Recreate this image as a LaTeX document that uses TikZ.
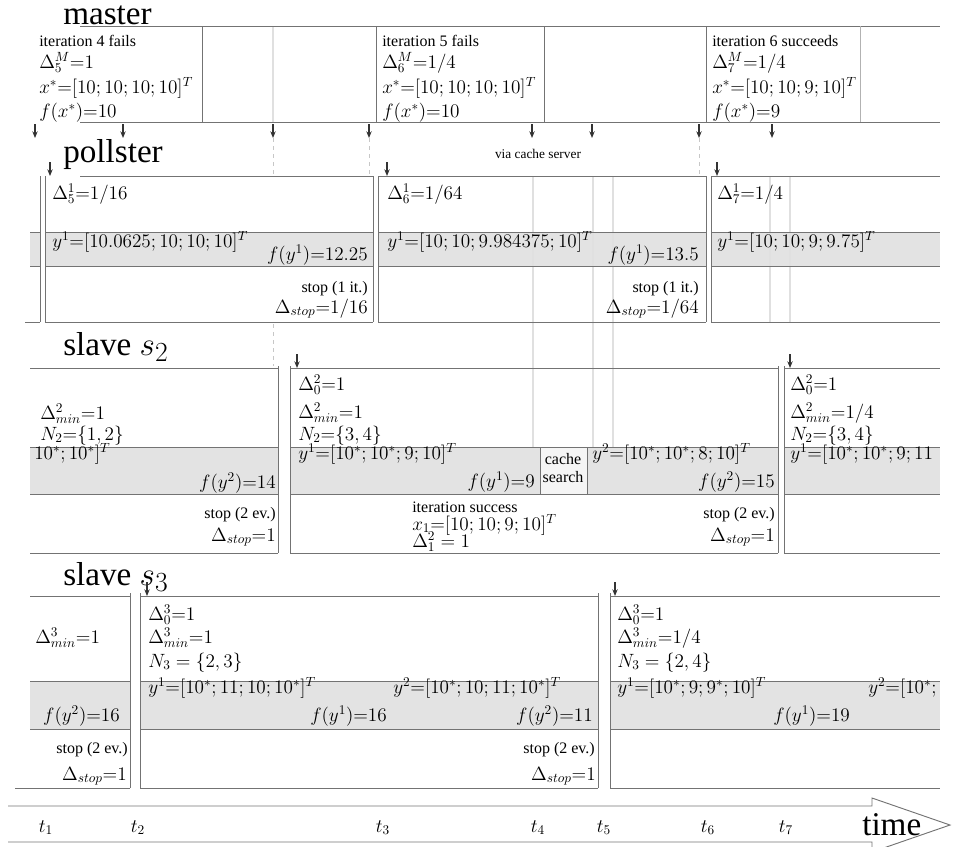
\documentclass[tikz,border=0pt]{standalone}
\usepackage[no-math]{fontspec}
\setmainfont{Liberation Serif}
\usetikzlibrary{arrows.meta}
\newcommand\M[1]{{\fontsize{14.4}{17}\selectfont$#1$}}
\begin{document}
\begin{tikzpicture}[x=0.75pt,y=-0.75pt,
  ln/.style={draw=black!55, line width=0.7pt},
  ghost/.style={draw=black!12, line width=0.9pt},
  bandfill/.style={fill=black!11},
  tx/.style={inner sep=0pt, anchor=base west, font=\fontsize{12}{14}\selectfont},
  txr/.style={inner sep=0pt, anchor=base east, font=\fontsize{12}{14}\selectfont},
  txc/.style={inner sep=0pt, anchor=base, font=\fontsize{12}{14}\selectfont},
  ttl/.style={inner sep=0pt, anchor=base west, font=\fontsize{24.88}{30}\selectfont},
  msg/.style={draw=black!80, line width=1.1pt, -{Stealth[length=5pt,width=4pt]}},
  dsh/.style={draw=black!22, dashed, line width=0.7pt},
  tl/.style={inner sep=0pt, anchor=base, font=\fontsize{14.4}{17}\selectfont},
]
\useasboundingbox (0,0) rectangle (959,846);
\clip (0,0) rectangle (959,846);

% ---------- gray bands ----------
\foreach \a/\b in {30/40,45/373,378/706,711/940} \fill[bandfill] (\a,232) rectangle (\b,266);
\foreach \a/\b in {30/278,290/778,784/940} \fill[bandfill] (\a,447) rectangle (\b,494);
\foreach \a/\b in {30/130,140/598,610/940} \fill[bandfill] (\a,681) rectangle (\b,729);
\fill[black!4] (540,447) rectangle (587,494);

% ---------- ghost lines ----------
\foreach \x in {533,593,613} \draw[ghost] (\x,176) -- (\x,447);
\foreach \x in {770,790} \draw[ghost] (\x,176) -- (\x,322);
\draw[ghost] (273,26) -- (273,122);

% ---------- master lane ----------
\draw[ln] (80,26) -- (940,26);
\draw[ln] (80,122) -- (940,122);
\foreach \x in {202,376,544,706} \draw[ln] (\x,26) -- (\x,122);
\draw[ln, draw=black!30] (860,26) -- (860,122);

% ---------- pollster lane ----------
\foreach \a/\b in {80/373,378/706,711/940} \draw[ln] (\a,176) -- (\b,176);
\foreach \a/\b in {30/40,45/373,378/706,711/940} {\draw[ln] (\a,232) -- (\b,232); \draw[ln] (\a,266) -- (\b,266);}
\foreach \a/\b in {25/40,45/373,378/706,711/940} \draw[ln] (\a,322) -- (\b,322);
\foreach \x in {40,45,373,378,706,711} \draw[ln] (\x,176) -- (\x,322);

% ---------- slave s2 lane ----------
\foreach \a/\b in {30/278,290/778,784/940} {\draw[ln] (\a,368) -- (\b,368); \draw[ln] (\a,447) -- (\b,447); \draw[ln] (\a,494) -- (\b,494); \draw[ln] (\a,553) -- (\b,553);}
\foreach \x in {278,290,778,784} \draw[ln] (\x,366) -- (\x,553);
\draw[ln] (540,447) -- (540,494);
\draw[ln] (587,447) -- (587,494);

% ---------- slave s3 lane ----------
\foreach \a/\b in {30/130,140/598,610/940} {\draw[ln] (\a,596) -- (\b,596); \draw[ln] (\a,681) -- (\b,681); \draw[ln] (\a,729) -- (\b,729);}
\foreach \a/\b in {15/130,140/598,610/940} \draw[ln] (\a,788) -- (\b,788);
\foreach \x in {130,140,598,610} \draw[ln] (\x,593) -- (\x,788);

% ---------- time arrow ----------
\draw[ln] (8,806) -- (872,806) -- (872,798) -- (950,825) -- (872,852) -- (872,842) -- (8,842);

% ---------- titles ----------
\node[ttl] (tmaster) at (63,24) {master};
\node[ttl] (tpoll) at (63,162) {pollster};
\node[ttl] (ts2) at (63,355) {slave $s_2$};
\node[ttl] (ts3) at (63,585) {slave $s_3$};
\node[ttl] (ttime) at (862,835) {time};

% ---------- master texts ----------
\node[tx] (m1a) at (39,46) {iteration 4 fails};
\node[tx] (m1b) at (39,68) {\M{\Delta_5^M{=}1}};
\node[tx] (m1c) at (39,93) {\M{x^*{=}[10; 10; 10; 10]^T}};
\node[tx] (m1d) at (39,117) {\M{f(x^*){=}10}};
\node[tx] (m2a) at (382,46) {iteration 5 fails};
\node[tx] (m2b) at (382,68) {\M{\Delta_6^M{=}1/4}};
\node[tx] (m2c) at (382,93) {\M{x^*{=}[10; 10; 10; 10]^T}};
\node[tx] (m2d) at (382,117) {\M{f(x^*){=}10}};
\node[tx] (m3a) at (712,46) {iteration 6 succeeds};
\node[tx] (m3b) at (712,68) {\M{\Delta_7^M{=}1/4}};
\node[tx] (m3c) at (712,93) {\M{x^*{=}[10; 10; 9; 10]^T}};
\node[tx] (m3d) at (712,117) {\M{f(x^*){=}9}};

\node[txc, font=\fontsize{10}{12}\selectfont] (via) at (538,158) {via cache server};

% ---------- pollster texts ----------
\node[tx] (p1a) at (52,199) {\M{\Delta_5^1{=}1/16}};
\node[tx] (p1b) at (52,247) {\M{y^1{=}[10.0625; 10; 10; 10]^T}};
\node[txr] (p1c) at (368,260) {\M{f(y^1){=}12.25}};
\node[txr] (p1d) at (368,292) {stop (1 it.)};
\node[txr] (p1e) at (368,313) {\M{\Delta_{stop}{=}1/16}};
\node[tx] (p2a) at (387,199) {\M{\Delta_6^1{=}1/64}};
\node[tx] (p2b) at (387,247) {\M{y^1{=}[10; 10; 9.984375; 10]^T}};
\node[txr] (p2c) at (699,260) {\M{f(y^1){=}13.5}};
\node[txr] (p2d) at (699,292) {stop (1 it.)};
\node[txr] (p2e) at (699,313) {\M{\Delta_{stop}{=}1/64}};
\node[tx] (p3a) at (717,199) {\M{\Delta_7^1{=}1/4}};
\node[tx] (p3b) at (717,247) {\M{y^1{=}[10; 10; 9; 9.75]^T}};

% ---------- slave s2 texts ----------
\node[tx] (a1a) at (40,419) {\M{\Delta_{min}^2{=}1}};
\node[tx] (a1b) at (40,440) {\M{N_2{=}\{1, 2\}}};
\node[tx] (a1c) at (34,459) {\M{10^*; 10^*]^T}};
\node[txr] (a1d) at (276,488) {\M{f(y^2){=}14}};
\node[txr] (a1e) at (276,518) {stop (2 ev.)};
\node[txr] (a1f) at (276,541) {\M{\Delta_{stop}{=}1}};
\node[tx] (a2a) at (298,390) {\M{\Delta_0^2{=}1}};
\node[tx] (a2b) at (298,418) {\M{\Delta_{min}^2{=}1}};
\node[tx] (a2c) at (298,440) {\M{N_2{=}\{3, 4\}}};
\node[tx] (a2d) at (298,459) {\M{y^1{=}[10^*; 10^*; 9; 10]^T}};
\node[txr] (a2e) at (535,487) {\M{f(y^1){=}9}};
\node[txc] (cache1) at (563,464) {cache};
\node[txc] (cache2) at (563,482) {search};
\node[tx] (a2f) at (592,459) {\M{y^2{=}[10^*; 10^*; 8; 10]^T}};
\node[txr] (a2g) at (775,487) {\M{f(y^2){=}15}};
\node[tx] (a2h) at (412,512) {iteration success};
\node[tx] (a2i) at (412,530) {\M{x_1{=}[10; 10; 9; 10]^T}};
\node[tx] (a2j) at (412,547) {\M{\Delta_1^2 = 1}};
\node[txr] (a2k) at (775,518) {stop (2 ev.)};
\node[txr] (a2l) at (775,541) {\M{\Delta_{stop}{=}1}};
\node[tx] (a3a) at (790,390) {\M{\Delta_0^2{=}1}};
\node[tx] (a3b) at (790,418) {\M{\Delta_{min}^2{=}1/4}};
\node[tx] (a3c) at (790,440) {\M{N_2{=}\{3, 4\}}};
\node[tx] (a3d) at (790,459) {\M{y^1{=}[10^*; 10^*; 9; 11}};

% ---------- slave s3 texts ----------
\node[tx] (b1a) at (35,643) {\M{\Delta_{min}^3{=}1}};
\node[txr] (b1b) at (120,721) {\M{f(y^2){=}16}};
\node[txr] (b1c) at (128,753) {stop (2 ev.)};
\node[txr] (b1d) at (127,780) {\M{\Delta_{stop}{=}1}};
\node[tx] (b2a) at (148,620) {\M{\Delta_0^3{=}1}};
\node[tx] (b2b) at (148,643) {\M{\Delta_{min}^3{=}1}};
\node[tx] (b2c) at (148,667) {\M{N_3 = \{2, 3\}}};
\node[tx] (b2d) at (148,693) {\M{y^1{=}[10^*; 11; 10; 10^*]^T}};
\node[tx] (b2e) at (393,693) {\M{y^2{=}[10^*; 10; 11; 10^*]^T}};
\node[tx] (b2f) at (310,721) {\M{f(y^1){=}16}};
\node[txr] (b2g) at (593,721) {\M{f(y^2){=}11}};
\node[txr] (b2h) at (595,753) {stop (2 ev.)};
\node[txr] (b2i) at (596,780) {\M{\Delta_{stop}{=}1}};
\node[tx] (b3a) at (617,620) {\M{\Delta_0^3{=}1}};
\node[tx] (b3b) at (617,643) {\M{\Delta_{min}^3{=}1/4}};
\node[tx] (b3c) at (617,667) {\M{N_3 = \{2, 4\}}};
\node[tx] (b3d) at (617,693) {\M{y^1{=}[10^*; 9; 9^*; 10]^T}};
\node[tx] (b3e) at (868,693) {\M{y^2{=}[10^*;}};
\node[tx] (b3f) at (773,721) {\M{f(y^1){=}19}};

% ---------- time labels ----------
\foreach \x/\i in {46/1,138/2,383/3,538/4,604/5,708/6,786/7} \node[tl] (t\i) at (\x,832) {$t_{\i}$};

% ---------- messages ----------
\foreach \x [count=\i] in {35,123,273,369,532,592,699,772} {
  \coordinate (ms\i) at (\x,124); \coordinate (me\i) at (\x,138);
  \draw[msg] (ms\i) -- (me\i);
}
\coordinate (md3) at (273,176); \coordinate (md4) at (369,176); \coordinate (md7) at (699,176);
\draw[dsh] (me3) -- (md3); \draw[dsh] (me4) -- (md4); \draw[dsh] (me7) -- (md7);
\coordinate (pd1) at (273,324); \coordinate (pd2) at (273,366);
\draw[dsh] (pd1) -- (pd2);

\foreach \x [count=\i] in {50,387,717} {
  \coordinate (ps\i) at (\x,162); \coordinate (pe\i) at (\x,176);
  \draw[msg] (ps\i) -- (pe\i);
}
\foreach \x [count=\i] in {297,790} {
  \coordinate (ss\i) at (\x,354); \coordinate (se\i) at (\x,368);
  \draw[msg] (ss\i) -- (se\i);
}
\foreach \x [count=\i] in {147,615} {
  \coordinate (rs\i) at (\x,582); \coordinate (re\i) at (\x,596);
  \draw[msg] (rs\i) -- (re\i);
}
\end{tikzpicture}
\end{document}
